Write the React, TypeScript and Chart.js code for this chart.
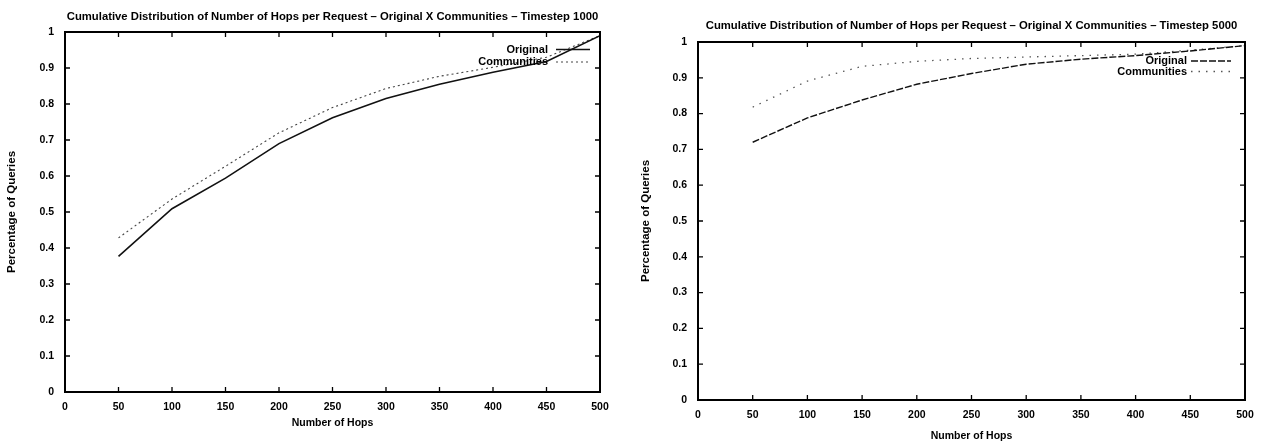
import React, { useEffect, useRef } from "react";
import { Chart, registerables } from "chart.js";

Chart.register(...registerables);

// ---------- data ----------
const hops = [50, 100, 150, 200, 250, 300, 350, 400, 450, 500];
const xTickValues = [0, 50, 100, 150, 200, 250, 300, 350, 400, 450, 500];
const yTickValues = [0, 0.1, 0.2, 0.3, 0.4, 0.5, 0.6, 0.7, 0.8, 0.9, 1];
const seriesLabels = ["Original", "Communities"];

const t1000Original = [0.377, 0.509, 0.594, 0.69, 0.762, 0.815, 0.855, 0.888, 0.918, 0.99];
const t1000Communities = [0.428, 0.536, 0.627, 0.72, 0.79, 0.843, 0.877, 0.902, 0.93, 0.99];
const t5000Original = [0.72, 0.788, 0.838, 0.882, 0.912, 0.938, 0.952, 0.962, 0.975, 0.99];
const t5000Communities = [0.818, 0.891, 0.932, 0.946, 0.954, 0.958, 0.962, 0.966, 0.977, 0.99];

const title1000 = "Cumulative Distribution of Number of Hops per Request – Original X Communities – Timestep 1000";
const title5000 = "Cumulative Distribution of Number of Hops per Request – Original X Communities – Timestep 5000";
const xAxisTitle = "Number of Hops";
const yAxisTitle = "Percentage of Queries";

// ---------- layout / style ----------
const H = 445;
const FONT = "'Liberation Sans', Arial, Helvetica, sans-serif";

type Spec = {
  x: number;
  width: number;
  plot: { left: number; right: number; top: number; bottom: number };
  titleCY: number;
  xTitleCY: number;
  yTitleCX: number;
  xTickPad: number;
  yTickPad: number;
  title: string;
  original: number[];
  communities: number[];
  origDash: number[];
  origWidth: number;
  commDash: number[];
  commWidth: number;
  commColor: string;
  key: { textRight: number; sampleStart: number; sampleEnd: number; rows: number[] };
};

const specs: Spec[] = [
  {
    x: 0,
    width: 632,
    plot: { left: 65, right: 600, top: 32, bottom: 392 },
    titleCY: 17,
    xTitleCY: 423,
    yTitleCX: 12,
    xTickPad: 9,
    yTickPad: 11,
    title: title1000,
    original: t1000Original,
    communities: t1000Communities,
    origDash: [],
    origWidth: 1.6,
    commDash: [2, 3],
    commWidth: 1.1,
    commColor: "#444",
    key: { textRight: 52, sampleStart: 44, sampleEnd: 10, rows: [17.5, 30] },
  },
  {
    x: 632,
    width: 633,
    plot: { left: 66, right: 613, top: 42, bottom: 400 },
    titleCY: 26,
    xTitleCY: 436,
    yTitleCX: 14,
    xTickPad: 9,
    yTickPad: 11,
    title: title5000,
    original: t5000Original,
    communities: t5000Communities,
    origDash: [7, 2],
    origWidth: 1.4,
    commDash: [1.5, 6],
    commWidth: 1.3,
    commColor: "#555",
    key: { textRight: 58, sampleStart: 54, sampleEnd: 14, rows: [19, 29.5] },
  },
];

const framePlugin = {
  id: "gnuFrame",
  afterDatasetsDraw(chart: any) {
    const { ctx, chartArea: a, scales } = chart;
    ctx.save();
    ctx.strokeStyle = "#000";
    ctx.lineWidth = 2;
    ctx.setLineDash([]);
    ctx.strokeRect(a.left, a.top, a.right - a.left, a.bottom - a.top);
    const L = 5;
    ctx.lineWidth = 1.3;
    ctx.beginPath();
    scales.x.ticks.forEach((t: any) => {
      const px = scales.x.getPixelForValue(t.value);
      ctx.moveTo(px, a.bottom);
      ctx.lineTo(px, a.bottom - L);
      ctx.moveTo(px, a.top);
      ctx.lineTo(px, a.top + L);
    });
    scales.y.ticks.forEach((t: any) => {
      const py = scales.y.getPixelForValue(t.value);
      ctx.moveTo(a.left, py);
      ctx.lineTo(a.left + L, py);
      ctx.moveTo(a.right, py);
      ctx.lineTo(a.right - L, py);
    });
    ctx.stroke();
    ctx.restore();
  },
};

const keyPlugin = {
  id: "gnuKey",
  afterDraw(chart: any, _args: any, opts: any) {
    const { ctx, chartArea: a } = chart;
    ctx.save();
    chart.data.datasets.forEach((ds: any, i: number) => {
      const y = a.top + opts.rows[i];
      ctx.font = `bold 11px ${FONT}`;
      ctx.textAlign = "right";
      ctx.textBaseline = "middle";
      ctx.fillStyle = "#000";
      ctx.fillText(ds.label, a.right - opts.textRight, y);
      ctx.setLineDash(ds.borderDash || []);
      ctx.strokeStyle = ds.borderColor;
      ctx.lineWidth = ds.borderWidth;
      ctx.beginPath();
      ctx.moveTo(a.right - opts.sampleStart, y);
      ctx.lineTo(a.right - opts.sampleEnd, y);
      ctx.stroke();
    });
    ctx.restore();
  },
};

function Panel({ spec }: { spec: Spec }) {
  const ref = useRef<HTMLCanvasElement>(null);
  useEffect(() => {
    const p = spec.plot;
    const titleSize = 11.3;
    const titleLH = 13.5;
    const axLH = 13;
    const chart = new Chart(ref.current!, {
      type: "line",
      data: {
        datasets: [
          {
            label: seriesLabels[0],
            data: hops.map((h, i) => ({ x: h, y: spec.original[i] })),
            borderColor: "#111",
            borderWidth: spec.origWidth,
            borderDash: spec.origDash,
            pointRadius: 0,
            tension: 0,
            fill: false,
          },
          {
            label: seriesLabels[1],
            data: hops.map((h, i) => ({ x: h, y: spec.communities[i] })),
            borderColor: spec.commColor,
            borderWidth: spec.commWidth,
            borderDash: spec.commDash,
            pointRadius: 0,
            tension: 0,
            fill: false,
          },
        ],
      },
      options: {
        responsive: false,
        animation: false,
        devicePixelRatio: 1,
        layout: { padding: { left: 0, top: 0, bottom: 0, right: spec.width - p.right } },
        plugins: {
          legend: { display: false },
          tooltip: { enabled: false },
          title: {
            display: true,
            fullSize: false,
            text: spec.title,
            color: "#000",
            font: { family: FONT, size: titleSize, weight: "bold", lineHeight: titleLH / titleSize },
            padding: {
              top: spec.titleCY - titleLH / 2,
              bottom: p.top - (spec.titleCY - titleLH / 2) - titleLH,
            },
          },
          gnuKey: spec.key,
        } as any,
        scales: {
          x: {
            type: "linear",
            min: 0,
            max: 500,
            grid: { display: false, drawTicks: false },
            border: { display: false },
            ticks: {
              color: "#000",
              font: { family: FONT, size: 10.5, weight: "bold" },
              padding: spec.xTickPad,
              maxRotation: 0,
              autoSkip: false,
            },
            afterBuildTicks: (s: any) => {
              s.ticks = xTickValues.map((v) => ({ value: v }));
            },
            afterFit: (s: any) => {
              s.height = H - p.bottom;
              s.paddingLeft = 0;
              s.paddingRight = 0;
            },
            title: {
              display: true,
              text: xAxisTitle,
              color: "#000",
              font: { family: FONT, size: 10.5, weight: "bold", lineHeight: axLH / 10.5 },
              padding: { top: 0, bottom: H - spec.xTitleCY - axLH / 2 },
            },
          },
          y: {
            type: "linear",
            min: 0,
            max: 1,
            grid: { display: false, drawTicks: false },
            border: { display: false },
            ticks: {
              color: "#000",
              font: { family: FONT, size: 10.5, weight: "bold" },
              padding: spec.yTickPad,
              autoSkip: false,
              callback: (v: any) => String(Math.round(Number(v) * 10) / 10),
            },
            afterBuildTicks: (s: any) => {
              s.ticks = yTickValues.map((v) => ({ value: v }));
            },
            afterFit: (s: any) => {
              s.width = p.left;
              s.paddingTop = 0;
              s.paddingBottom = 0;
            },
            title: {
              display: true,
              text: yAxisTitle,
              color: "#000",
              font: { family: FONT, size: 11.5, weight: "bold", lineHeight: axLH / 11.5 },
              padding: { top: spec.yTitleCX - axLH / 2, bottom: 0 },
            },
          },
        },
      },
      plugins: [framePlugin, keyPlugin],
    } as any);
    return () => chart.destroy();
  }, [spec]);
  return (
    <canvas
      ref={ref}
      width={spec.width}
      height={H}
      style={{ position: "absolute", left: spec.x, top: 0, width: spec.width, height: H }}
    />
  );
}

export default function App() {
  return (
    <div style={{ position: "absolute", left: 0, top: 0, width: 1265, height: H, background: "#fff" }}>
      {specs.map((s, i) => (
        <Panel key={i} spec={s} />
      ))}
    </div>
  );
}
